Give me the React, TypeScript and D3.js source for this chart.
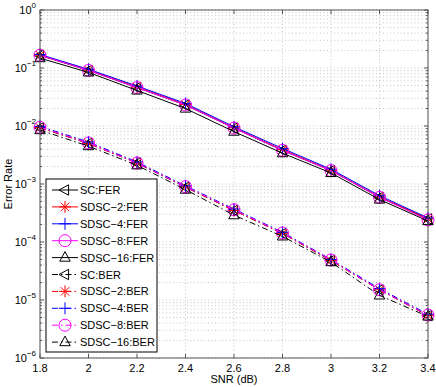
import React, { useEffect, useRef } from 'react';
import * as d3 from 'd3';

// SNR (dB) points
const snr = [1.8, 2.0, 2.2, 2.4, 2.6, 2.8, 3.0, 3.2, 3.4];

// frame error rate
const ferSC = [0.165, 0.091, 0.046, 0.023, 0.0092, 0.0038, 0.0017, 0.00059, 0.00025];
const ferSD2 = [0.166, 0.092, 0.047, 0.0235, 0.0093, 0.0039, 0.00172, 0.0006, 0.00025];
const ferSD4 = [0.171, 0.095, 0.049, 0.0245, 0.0097, 0.0041, 0.0018, 0.00063, 0.00026];
const ferSD8 = [0.166, 0.091, 0.046, 0.023, 0.0092, 0.0038, 0.0017, 0.00059, 0.00024];
const ferSD16 = [0.148, 0.084, 0.041, 0.020, 0.0080, 0.0034, 0.00155, 0.00054, 0.00023];

// bit error rate
const berSC = [0.0093, 0.0050, 0.0023, 0.00088, 0.00035, 0.00014, 0.000048, 0.000015, 5.4e-6];
const berSD2 = [0.0094, 0.0050, 0.0023, 0.00089, 0.00035, 0.000141, 0.000048, 0.000015, 5.4e-6];
const berSD4 = [0.0099, 0.0053, 0.0024, 0.00093, 0.00037, 0.000147, 0.00005, 0.0000157, 5.7e-6];
const berSD8 = [0.0095, 0.0051, 0.0023, 0.0009, 0.00036, 0.000143, 0.000049, 0.000015, 5.5e-6];
const berSD16 = [0.0085, 0.0045, 0.0021, 0.00080, 0.00029, 0.000125, 0.000045, 0.000012, 5.2e-6];

const xTicks = [1.8, 2, 2.2, 2.4, 2.6, 2.8, 3, 3.2, 3.4];
const yExps = [0, -1, -2, -3, -4, -5, -6];

const series = [
  { name: 'SC:FER', values: ferSC, color: '#000', marker: 'left', dash: null },
  { name: 'SDSC\u22122:FER', values: ferSD2, color: '#ff0000', marker: 'star', dash: null },
  { name: 'SDSC\u22124:FER', values: ferSD4, color: '#0000ff', marker: 'plus', dash: null },
  { name: 'SDSC\u22128:FER', values: ferSD8, color: '#ff00ff', marker: 'circle', dash: null },
  { name: 'SDSC\u221216:FER', values: ferSD16, color: '#000', marker: 'up', dash: null },
  { name: 'SC:BER', values: berSC, color: '#000', marker: 'left', dash: '6,3,1.5,3' },
  { name: 'SDSC\u22122:BER', values: berSD2, color: '#ff0000', marker: 'star', dash: '6,3,1.5,3' },
  { name: 'SDSC\u22124:BER', values: berSD4, color: '#0000ff', marker: 'plus', dash: '6,3,1.5,3' },
  { name: 'SDSC\u22128:BER', values: berSD8, color: '#ff00ff', marker: 'circle', dash: '6,3,1.5,3' },
  { name: 'SDSC\u221216:BER', values: berSD16, color: '#000', marker: 'up', dash: '6,3,1.5,3' },
];

const markerPath = (type: string, r: number) => {
  const h = r * 0.87;
  switch (type) {
    case 'left':
      return `M${-r},0L${r * 0.6},${-h}L${r * 0.6},${h}Z`;
    case 'up':
      return `M0,${-r}L${h},${r * 0.6}L${-h},${r * 0.6}Z`;
    case 'plus':
      return `M${-r},0L${r},0M0,${-r}L0,${r}`;
    case 'star': {
      const d = r * 0.7;
      return `M${-r},0L${r},0M0,${-r}L0,${r}M${-d},${-d}L${d},${d}M${-d},${d}L${d},${-d}`;
    }
    default:
      return d3.symbol(d3.symbolCircle, Math.PI * r * r)() as string;
  }
};

const App = () => {
  const svgRef = useRef(null);

  useEffect(() => {
    const W = 436, H = 387;
    const margin = { top: 10, right: 8, bottom: 29, left: 40 };
    const cw = W - margin.left - margin.right;
    const ch = H - margin.top - margin.bottom;
    const font = 'Liberation Sans, Arial, sans-serif';
    const axisColor = '#555';

    const svg = d3.select(svgRef.current);
    svg.selectAll('*').remove();
    svg.append('rect').attr('width', W).attr('height', H).attr('fill', '#fff');

    const x = d3.scaleLinear().domain([1.8, 3.4]).range([0, cw]);
    const y = d3.scaleLog().domain([1e-6, 1]).range([ch, 0]);

    const g = svg.append('g').attr('transform', `translate(${margin.left},${margin.top})`);

    // minor + major y values
    const minorY: number[] = [];
    for (let e = -6; e < 0; e++) {
      for (let m = 2; m <= 9; m++) minorY.push(m * Math.pow(10, e));
    }
    const majorY = yExps.map(e => Math.pow(10, e));

    // grid
    const grid = g.append('g').attr('stroke', '#b8b8b8').attr('stroke-width', 0.8).attr('stroke-dasharray', '1,2.5');
    minorY.concat(majorY).forEach(v => {
      grid.append('line').attr('x1', 0).attr('x2', cw).attr('y1', y(v)).attr('y2', y(v));
    });
    xTicks.forEach(v => {
      grid.append('line').attr('x1', x(v)).attr('x2', x(v)).attr('y1', 0).attr('y2', ch);
    });

    // ticks (inside, all sides)
    const ticks = g.append('g').attr('stroke', axisColor).attr('stroke-width', 1);
    xTicks.forEach(v => {
      ticks.append('line').attr('x1', x(v)).attr('x2', x(v)).attr('y1', ch).attr('y2', ch - 4);
      ticks.append('line').attr('x1', x(v)).attr('x2', x(v)).attr('y1', 0).attr('y2', 4);
    });
    majorY.forEach(v => {
      ticks.append('line').attr('x1', 0).attr('x2', 4).attr('y1', y(v)).attr('y2', y(v));
      ticks.append('line').attr('x1', cw).attr('x2', cw - 4).attr('y1', y(v)).attr('y2', y(v));
    });
    minorY.forEach(v => {
      ticks.append('line').attr('x1', 0).attr('x2', 2).attr('y1', y(v)).attr('y2', y(v));
      ticks.append('line').attr('x1', cw).attr('x2', cw - 2).attr('y1', y(v)).attr('y2', y(v));
    });

    // series lines and markers
    const line = d3.line<number>()
      .x((_, i) => x(snr[i]))
      .y(d => y(d));

    series.forEach(s => {
      g.append('path')
        .datum(s.values)
        .attr('fill', 'none')
        .attr('stroke', s.color)
        .attr('stroke-width', 1)
        .attr('stroke-dasharray', s.dash)
        .attr('d', line);
      g.selectAll(null)
        .data(s.values)
        .join('path')
        .attr('transform', (d, i) => `translate(${x(snr[i])},${y(d)})`)
        .attr('d', markerPath(s.marker, 6))
        .attr('fill', 'none')
        .attr('stroke', s.color)
        .attr('stroke-width', 1);
    });

    // box
    g.append('rect')
      .attr('width', cw).attr('height', ch)
      .attr('fill', 'none').attr('stroke', axisColor).attr('stroke-width', 1);

    // x tick labels
    xTicks.forEach(v => {
      g.append('text')
        .attr('x', x(v)).attr('y', ch + 14)
        .attr('text-anchor', 'middle')
        .attr('font-family', font).attr('font-size', 11)
        .text(String(v));
    });

    // y tick labels 10^e
    yExps.forEach(e => {
      const t = g.append('text')
        .attr('x', -4).attr('y', y(Math.pow(10, e)) + 4)
        .attr('text-anchor', 'end')
        .attr('font-family', font).attr('font-size', 11);
      t.append('tspan').text('10');
      t.append('tspan').attr('dy', -6).attr('font-size', 8)
        .text(e === 0 ? '0' : `\u2212${-e}`);
    });

    // axis titles
    svg.append('text')
      .attr('x', margin.left + cw / 2).attr('y', H - 4)
      .attr('text-anchor', 'middle')
      .attr('font-family', font).attr('font-size', 11)
      .text('SNR (dB)');
    svg.append('text')
      .attr('transform', `translate(12,${margin.top + ch / 2}) rotate(-90)`)
      .attr('text-anchor', 'middle')
      .attr('font-family', font).attr('font-size', 11)
      .text('Error Rate');

    // legend
    const lx = 46, ly = 179, lw = 111, lh = 173, step = 16.9;
    const leg = svg.append('g');
    leg.append('rect')
      .attr('x', lx).attr('y', ly).attr('width', lw).attr('height', lh)
      .attr('fill', '#fff').attr('stroke', '#000').attr('stroke-width', 1);
    series.forEach((s, i) => {
      const cy = ly + 11 + i * step;
      leg.append('line')
        .attr('x1', lx + 6).attr('x2', lx + 32)
        .attr('y1', cy).attr('y2', cy)
        .attr('stroke', s.color).attr('stroke-width', 1)
        .attr('stroke-dasharray', s.dash);
      leg.append('path')
        .attr('transform', `translate(${lx + 19},${cy})`)
        .attr('d', markerPath(s.marker, 6))
        .attr('fill', 'none').attr('stroke', s.color).attr('stroke-width', 1);
      leg.append('text')
        .attr('x', lx + 34).attr('y', cy + 4)
        .attr('font-family', font).attr('font-size', 11)
        .text(s.name);
    });
  }, []);

  return (
    <svg ref={svgRef} width={436} height={387}
      style={{ position: 'absolute', left: 0, top: 0 }}></svg>
  );
};

export default App;
